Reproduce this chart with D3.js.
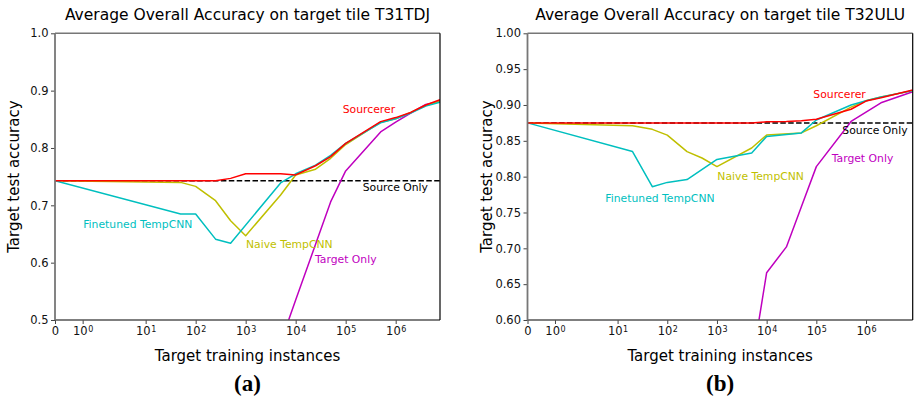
<!DOCTYPE html>
<html>
<head>
<meta charset="utf-8">
<script src="https://cdn.jsdelivr.net/npm/d3@7"></script>
<style>
  html, body { margin: 0; padding: 0; background: #fff; }
  svg { display: block; font-family: "DejaVu Sans", sans-serif; }
</style>
</head>
<body>
<svg id="chart" width="914" height="399"></svg>
<script>
// ---- data -------------------------------------------------------------
const seriesNames = ["Sourcerer", "Finetuned TempCNN", "Naive TempCNN", "Target Only"];
const xTickValues = [0, 1, 10, 100, 1e3, 1e4, 1e5, 1e6];

// T31TDJ
const sizesA = [0, 50, 100, 250, 500, 1000, 5000, 1e4, 25000, 5e4, 1e5, 5e5, 1e6, 2e6, 4e6, 7.7e6];
const sourcererA = [0.743, 0.743, 0.743, 0.743, 0.747, 0.755, 0.755, 0.753, 0.769, 0.785, 0.808, 0.846, 0.853, 0.862, 0.875, 0.884];
const finetunedA = [0.743, 0.685, 0.685, 0.641, 0.634, null, 0.739, 0.755, 0.770, 0.787, 0.808, 0.844, 0.851, 0.861, 0.873, 0.880];
const naiveA     = [0.743, 0.740, 0.733, 0.708, 0.673, 0.647, 0.718, 0.753, 0.763, 0.782, 0.806, 0.845, 0.851, 0.862, 0.874, 0.881];
const targetA    = [null, null, null, null, null, null, 0.46, 0.535, 0.632, 0.706, 0.760, 0.828, 0.845, 0.861, 0.876, 0.881];
const sourceOnlyA = 0.743;

// T32ULU
const sizesB = [0, 20, 50, 100, 250, 500, 1000, 5000, 1e4, 25000, 5e4, 1e5, 5e5, 1e6, 2e6, 8.7e6];
const sourcererB = [0.875, 0.875, 0.875, 0.875, 0.875, 0.875, 0.875, 0.875, 0.8765, 0.877, 0.878, 0.880, 0.894, 0.9055, 0.910, 0.921];
const finetunedB = [0.875, 0.835, 0.786, 0.792, 0.796, null, 0.824, 0.833, 0.856, null, 0.861, 0.879, 0.900, 0.906, 0.911, 0.920];
const naiveB     = [0.875, 0.871, 0.866, 0.858, 0.835, 0.826, 0.814, 0.840, 0.858, null, 0.861, 0.871, 0.897, 0.906, 0.911, 0.920];
const targetB    = [null, null, null, null, null, null, null, 0.537, 0.666, 0.702, 0.758, 0.814, 0.877, 0.890, 0.903, 0.9185];
const sourceOnlyB = 0.875;

const yTicksA = [0.5, 0.6, 0.7, 0.8, 0.9, 1.0];
const yTicksB = [0.60, 0.65, 0.70, 0.75, 0.80, 0.85, 0.90, 0.95, 1.00];

// ---- styling ------------------------------------------------------------
const colors = {
  "Sourcerer": "#ff0000",
  "Finetuned TempCNN": "#00bfbf",
  "Naive TempCNN": "#bfbf00",
  "Target Only": "#bf00bf",
  "Source Only": "#000000"
};

// position along the training-size axis, in decades
const U1 = 0.553, U10 = 1.813;
function decadePos(n) {
  if (n <= 0) return 0;
  if (n < 1) return n * U1;
  if (n < 10) return U1 + (U10 - U1) * Math.log10(n);
  return U10 + Math.log10(n / 10);
}

const panels = [
  {
    title: "Average Overall Accuracy on target tile T31TDJ",
    tag: "(a)",
    sizes: sizesA,
    series: [sourcererA, finetunedA, naiveA, targetA],
    sourceOnly: sourceOnlyA,
    yDomain: [0.5, 1.0], yTicks: yTicksA, yFmt: ".1f",
    box: { x0: 55, x1: 440, y0: 33.3, y1: 320 },
    labels: [
      { text: "Sourcerer", n: 87300, v: 0.8677 },
      { text: "Source Only", n: 219000, v: 0.7326 },
      { text: "Finetuned TempCNN", n: 1.02, v: 0.667 },
      { text: "Naive TempCNN", n: 1017, v: 0.6326 },
      { text: "Target Only", n: 24400, v: 0.6065 }
    ]
  },
  {
    title: "Average Overall Accuracy on target tile T32ULU",
    tag: "(b)",
    sizes: sizesB,
    series: [sourcererB, finetunedB, naiveB, targetB],
    sourceOnly: sourceOnlyB,
    yDomain: [0.6, 1.0], yTicks: yTicksB, yFmt: ".2f",
    box: { x0: 527.5, x1: 912.7, y0: 33.3, y1: 320 },
    labels: [
      { text: "Sourcerer", n: 87100, v: 0.9153 },
      { text: "Source Only", n: 334000, v: 0.8651 },
      { text: "Target Only", n: 204000, v: 0.8256 },
      { text: "Naive TempCNN", n: 1017, v: 0.8009 },
      { text: "Finetuned TempCNN", n: 6.37, v: 0.7706 }
    ]
  }
];

const svg = d3.select("#chart");

panels.forEach((p, pi) => {
  const b = p.box;
  const maxN = p.sizes[p.sizes.length - 1];
  const xLin = d3.scaleLinear().domain([0, decadePos(maxN)]).range([b.x0, b.x1]);
  const x = n => xLin(decadePos(n));
  const y = d3.scaleLinear().domain(p.yDomain).range([b.y1, b.y0]);

  const g = svg.append("g");
  const clipId = "clip" + pi;
  svg.append("clipPath").attr("id", clipId)
    .append("rect").attr("x", b.x0).attr("y", b.y0)
    .attr("width", b.x1 - b.x0).attr("height", b.y1 - b.y0);

  // title
  g.append("text")
    .attr("x", (b.x0 + b.x1) / 2).attr("y", 19.5)
    .attr("text-anchor", "middle")
    .attr("font-size", "15.5px").attr("fill", "#000")
    .text(p.title);

  // source-only baseline
  const plot = g.append("g").attr("clip-path", `url(#${clipId})`);
  plot.append("line")
    .attr("x1", x(0)).attr("x2", x(maxN))
    .attr("y1", y(p.sourceOnly)).attr("y2", y(p.sourceOnly))
    .attr("stroke", colors["Source Only"]).attr("stroke-width", 1.5)
    .attr("stroke-dasharray", "5.5,2.4");

  // series lines: target only first so the transfer curves sit on top
  const order = [3, 2, 1, 0];
  const line = d3.line().x(d => x(d[0])).y(d => y(d[1]));
  order.forEach(si => {
    const pts = p.sizes.map((n, i) => [n, p.series[si][i]]).filter(d => d[1] !== null);
    plot.append("path")
      .attr("d", line(pts))
      .attr("fill", "none")
      .attr("stroke", colors[seriesNames[si]])
      .attr("stroke-width", 1.5)
      .attr("stroke-linejoin", "round");
  });

  // in-plot labels
  p.labels.forEach(l => {
    g.append("text")
      .attr("x", x(l.n)).attr("y", y(l.v))
      .attr("dy", "0.36em")
      .attr("font-size", "10.8px")
      .attr("fill", colors[l.text])
      .text(l.text);
  });

  // axes
  const yAxis = d3.axisLeft(y).tickValues(p.yTicks).tickFormat(d3.format(p.yFmt))
    .tickSize(4).tickPadding(2.5);
  const ya = g.append("g").attr("transform", `translate(${b.x0},0)`).call(yAxis);
  const xAxis = d3.axisBottom(xLin)
    .tickValues(xTickValues.map(decadePos))
    .tickFormat((d, i) => xTickValues[i] === 0 ? "0" : "10")
    .tickSize(4).tickPadding(3);
  const xa = g.append("g").attr("transform", `translate(0,${b.y1})`).call(xAxis);

  [ya, xa].forEach(a => {
    a.select(".domain").remove();
    a.selectAll(".tick line").attr("stroke", "#444").attr("stroke-width", 1);
    a.selectAll(".tick text").attr("font-size", "11.5px").attr("fill", "#111")
      .attr("font-family", "DejaVu Sans, sans-serif");
  });

  // powers of ten: raised exponent after the "10"
  xa.selectAll(".tick text").each(function (d, i) {
    const n = xTickValues[i];
    if (n === 0) return;
    d3.select(this).append("tspan")
      .attr("dy", "-0.42em")
      .attr("dx", "0.5")
      .attr("font-size", "8px")
      .text(String(Math.round(Math.log10(n))));
  });

  // frame
  g.append("line").attr("x1", b.x0).attr("x2", b.x1).attr("y1", b.y0).attr("y2", b.y0)
    .attr("stroke", "#777").attr("stroke-width", 1.6);
  g.append("line").attr("x1", b.x0).attr("x2", b.x1).attr("y1", b.y1).attr("y2", b.y1)
    .attr("stroke", "#555").attr("stroke-width", 1.6);
  g.append("line").attr("x1", b.x0).attr("x2", b.x0).attr("y1", b.y0).attr("y2", b.y1)
    .attr("stroke", "#777").attr("stroke-width", 1.8);
  g.append("line").attr("x1", b.x1).attr("x2", b.x1).attr("y1", b.y0).attr("y2", b.y1)
    .attr("stroke", "#000").attr("stroke-width", 1.2);

  // axis titles
  g.append("text")
    .attr("x", (b.x0 + b.x1) / 2).attr("y", 361)
    .attr("text-anchor", "middle").attr("font-size", "15px").attr("fill", "#000")
    .text("Target training instances");
  g.append("text")
    .attr("transform", `translate(${b.x0 - 36},${(b.y0 + b.y1) / 2}) rotate(-90)`)
    .attr("text-anchor", "middle").attr("font-size", "15px").attr("fill", "#000")
    .text("Target test accuracy");

  // panel tag
  g.append("text")
    .attr("x", (b.x0 + b.x1) / 2).attr("y", 391)
    .attr("text-anchor", "middle")
    .attr("font-family", "Liberation Serif, serif").attr("font-weight", "bold")
    .attr("font-size", "23px").attr("fill", "#000")
    .text(p.tag);
});
</script>
</body>
</html>
